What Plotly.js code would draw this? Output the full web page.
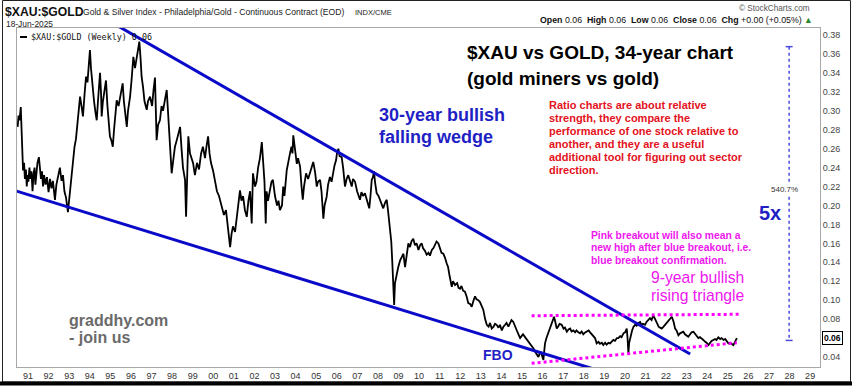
<!DOCTYPE html>
<html>
<head>
<meta charset="utf-8">
<script src="https://cdn.plot.ly/plotly-3.0.1.min.js"></script>
<style>
  html, body { margin: 0; padding: 0; background: #fff; }
  #chart { width: 859px; height: 386px; }
</style>
</head>
<body>
<div id="chart"></div>
<script>
// ---- Weekly $XAU:$GOLD ratio (decimal year, value) ----
const dates1990s = [1990.50,1990.54,1990.59,1990.65,1990.68,1990.72,1990.76,1990.81,1990.85,1990.90,1990.94,1990.98,
1991.02,1991.07,1991.12,1991.17,1991.22,1991.27,1991.32,1991.36,1991.41,1991.46,1991.53,1991.58,1991.63,1991.68,1991.73,1991.78,1991.85,1991.92,
1992.00,1992.07,1992.14,1992.21,1992.31,1992.38,1992.46,1992.55,1992.63,1992.70,1992.77,1992.85,1992.94,
1993.02,1993.09,1993.19,1993.26,1993.33,1993.38,1993.45,1993.53,1993.60,1993.67,1993.75,1993.82,1993.89,1993.96,
1994.01,1994.06,1994.14,1994.21,1994.28,1994.34,1994.40,1994.50,1994.55,1994.58,1994.64,1994.72,1994.79,1994.86,1994.94,1994.98,
1995.06,1995.12,1995.18,1995.25,1995.31,1995.40,1995.49,1995.60,1995.66,1995.74,1995.80,1995.86,1995.96,
1996.03,1996.12,1996.20,1996.30,1996.41,1996.47,1996.52,1996.59,1996.66,1996.77,1996.83,1996.93,
1997.03,1997.10,1997.17,1997.25,1997.32,1997.41,1997.49,1997.56,1997.66,1997.74,1997.80,1997.90,1997.98,
1998.07,1998.14,1998.24,1998.31,1998.39,1998.46,1998.53,1998.63,1998.68,1998.74,1998.79,1998.87,1998.94,
1999.02,1999.11,1999.21,1999.31,1999.41,1999.50,1999.60,1999.67,1999.75,1999.82,1999.89,1999.99];
const ratio1990s = [0.283,0.295,0.290,0.304,0.285,0.262,0.237,0.245,0.228,0.238,0.220,0.232,
0.225,0.240,0.228,0.236,0.215,0.233,0.240,0.222,0.235,0.245,0.251,0.238,0.228,0.236,0.220,0.232,0.222,0.230,
0.214,0.228,0.218,0.226,0.206,0.222,0.232,0.240,0.226,0.232,0.215,0.208,0.193,
0.210,0.228,0.245,0.262,0.270,0.280,0.298,0.315,0.305,0.294,0.318,0.336,0.330,0.350,
0.364,0.345,0.322,0.310,0.298,0.290,0.310,0.340,0.318,0.294,0.310,0.322,0.332,0.305,0.285,0.273,
0.268,0.262,0.280,0.300,0.311,0.305,0.318,0.329,0.310,0.295,0.283,0.300,0.315,
0.332,0.357,0.345,0.360,0.373,0.355,0.336,0.325,0.310,0.301,0.310,0.315,
0.305,0.322,0.335,0.269,0.285,0.290,0.305,0.300,0.312,0.322,0.300,0.262,0.234,
0.250,0.262,0.270,0.275,0.283,0.260,0.240,0.227,0.188,0.235,0.273,0.255,0.250,
0.245,0.232,0.245,0.238,0.255,0.262,0.250,0.262,0.273,0.255,0.245,0.237];

const dates2000s = [2000.09,2000.18,2000.28,2000.33,2000.43,2000.52,2000.62,2000.72,2000.77,2000.82,2000.89,2000.96,
2001.06,2001.16,2001.23,2001.30,2001.37,2001.45,2001.54,2001.63,2001.71,2001.79,2001.87,2001.93,
2002.03,2002.10,2002.18,2002.27,2002.36,2002.42,2002.49,2002.55,2002.59,2002.66,2002.76,2002.83,2002.90,
2003.00,2003.10,2003.17,2003.24,2003.34,2003.40,2003.46,2003.57,2003.63,2003.73,2003.80,2003.85,2003.89,2003.95,
2004.06,2004.12,2004.22,2004.29,2004.35,2004.41,2004.51,2004.61,2004.70,2004.78,2004.86,2004.95,
2005.03,2005.09,2005.19,2005.26,2005.35,2005.41,2005.51,2005.58,2005.67,2005.75,2005.84,2005.89,2005.97,
2006.01,2006.08,2006.14,2006.24,2006.31,2006.40,2006.48,2006.56,2006.65,2006.73,2006.79,2006.89,2006.99,
2007.06,2007.13,2007.20,2007.28,2007.37,2007.47,2007.54,2007.58,2007.64,2007.70,2007.76,2007.81,2007.86,2007.94,
2008.03,2008.10,2008.18,2008.26,2008.35,2008.43,2008.49,2008.54,2008.59,2008.65,2008.70,2008.75,2008.79,2008.83,2008.91,2008.99,
2009.08,2009.16,2009.24,2009.32,2009.39,2009.48,2009.56,2009.63,2009.72,2009.80,2009.88,2009.97];
const ratio2000s = [0.225,0.215,0.210,0.206,0.200,0.190,0.195,0.175,0.165,0.156,0.170,0.178,
0.172,0.190,0.200,0.216,0.205,0.210,0.195,0.188,0.205,0.215,0.181,0.234,
0.220,0.225,0.240,0.250,0.267,0.245,0.225,0.181,0.215,0.205,0.220,0.225,0.227,
0.210,0.200,0.205,0.195,0.200,0.220,0.210,0.237,0.245,0.255,0.262,0.255,0.274,0.262,
0.244,0.250,0.241,0.220,0.206,0.220,0.234,0.228,0.234,0.240,0.246,0.235,
0.220,0.225,0.227,0.215,0.186,0.200,0.209,0.222,0.230,0.225,0.237,0.242,0.248,
0.255,0.260,0.252,0.251,0.240,0.220,0.228,0.232,0.225,0.220,0.228,0.225,0.215,
0.210,0.206,0.214,0.210,0.213,0.205,0.200,0.197,0.210,0.227,0.230,0.236,0.225,0.213,
0.210,0.206,0.200,0.197,0.203,0.206,0.195,0.185,0.178,0.162,0.140,0.110,0.095,0.118,0.128,0.135,
0.142,0.146,0.149,0.135,0.145,0.160,0.156,0.162,0.165,0.158,0.160,0.153];

const dates2010s = [2010.05,2010.13,2010.19,2010.29,2010.37,2010.46,2010.53,2010.62,2010.70,2010.78,2010.85,2010.94,
2011.02,2011.09,2011.18,2011.26,2011.34,2011.41,2011.48,2011.53,2011.59,2011.65,2011.75,2011.85,2011.92,2011.99,
2012.06,2012.14,2012.23,2012.31,2012.39,2012.48,2012.56,2012.65,2012.72,2012.79,2012.88,2012.96,
2013.04,2013.12,2013.21,2013.29,2013.38,2013.45,2013.53,2013.62,2013.69,2013.77,2013.86,2013.93,
2014.02,2014.10,2014.18,2014.25,2014.34,2014.42,2014.49,2014.58,2014.66,2014.75,2014.83,2014.91,2014.98,
2015.05,2015.15,2015.22,2015.31,2015.39,2015.47,2015.56,2015.64,2015.71,2015.80,2015.85,2015.91,2015.98,
2016.04,2016.08,2016.12,2016.19,2016.28,2016.36,2016.45,2016.51,2016.56,2016.62,2016.69,2016.75,2016.83,2016.93,
2017.02,2017.09,2017.18,2017.26,2017.34,2017.41,2017.50,2017.58,2017.65,2017.74,2017.82,2017.90,2017.98,
2018.07,2018.15,2018.24,2018.31,2018.39,2018.47,2018.55,2018.63,2018.72,2018.79,2018.88,2018.95,
2019.04,2019.11,2019.20,2019.28,2019.35,2019.44,2019.52,2019.61,2019.68,2019.77,2019.84,2019.93];
const ratio2010s = [0.158,0.160,0.155,0.152,0.148,0.150,0.147,0.153,0.155,0.158,0.162,0.160,
0.155,0.150,0.149,0.145,0.139,0.135,0.126,0.118,0.114,0.120,0.116,0.118,0.113,0.112,
0.115,0.110,0.109,0.104,0.097,0.096,0.093,0.100,0.104,0.101,0.100,0.098,
0.094,0.090,0.080,0.074,0.072,0.076,0.070,0.072,0.075,0.074,0.071,0.074,
0.068,0.072,0.074,0.076,0.072,0.075,0.079,0.077,0.072,0.068,0.064,0.060,0.062,
0.064,0.061,0.059,0.056,0.054,0.051,0.049,0.0456,0.043,0.040,0.043,0.0456,0.041,
0.0368,0.046,0.0544,0.060,0.065,0.070,0.0756,0.080,0.0825,0.077,0.070,0.072,0.075,0.074,
0.070,0.071,0.0667,0.069,0.070,0.067,0.068,0.066,0.068,0.066,0.065,0.067,0.064,
0.066,0.0667,0.068,0.066,0.064,0.063,0.060,0.0544,0.056,0.054,0.055,0.0526,
0.055,0.053,0.055,0.0544,0.056,0.058,0.057,0.060,0.060,0.062,0.061,0.065];

const dates2020s = [2020.01,2020.09,2020.13,2020.17,2020.21,2020.29,2020.35,2020.42,2020.50,2020.57,2020.66,2020.74,2020.81,2020.88,2020.98,
2021.05,2021.14,2021.22,2021.30,2021.38,2021.47,2021.55,2021.64,2021.71,2021.79,2021.88,2021.95,
2022.04,2022.12,2022.20,2022.28,2022.37,2022.44,2022.51,2022.60,2022.68,2022.75,2022.84,2022.92,
2023.00,2023.08,2023.17,2023.24,2023.33,2023.41,2023.48,2023.57,2023.65,2023.73,2023.81,2023.90,2023.97,
2024.06,2024.14,2024.21,2024.30,2024.38,2024.45,2024.54,2024.63,2024.70,2024.79,2024.87,2024.94,
2025.03,2025.11,2025.18,2025.27,2025.35,2025.44];
const ratio2020s = [0.066,0.070,0.060,0.0439,0.055,0.065,0.068,0.072,0.074,0.073,0.076,0.077,0.074,0.075,0.074,
0.077,0.079,0.081,0.079,0.084,0.080,0.0756,0.072,0.071,0.070,0.072,0.074,
0.0756,0.078,0.080,0.0825,0.077,0.070,0.068,0.063,0.065,0.066,0.0667,0.064,
0.063,0.0614,0.064,0.066,0.0667,0.064,0.062,0.060,0.061,0.059,0.058,0.056,0.055,
0.0526,0.055,0.057,0.058,0.059,0.058,0.0607,0.059,0.060,0.058,0.059,0.057,
0.0544,0.055,0.054,0.0526,0.056,0.060];

// ---- Axis ticks ----
const yearTicks = [1991,1992,1993,1994,1995,1996,1997,1998,1999,2000,2001,2002,2003,2004,2005,2006,2007,2008,2009,2010,
2011,2012,2013,2014,2015,2016,2017,2018,2019,2020,2021,2022,2023,2024,2025,2026,2027,2028,2029];
const yearLabels = ['91','92','93','94','95','96','97','98','99','00','01','02','03','04','05','06','07','08','09','10',
'11','12','13','14','15','16','17','18','19','20','21','22','23','24','25','26','27','28','29'];
const priceTicks = [0.04,0.08,0.10,0.12,0.14,0.16,0.18,0.20,0.22,0.24,0.26,0.28,0.30,0.32,0.34,0.36,0.38];
const priceLabels = ['0.04','0.08','0.10','0.12','0.14','0.16','0.18','0.20','0.22','0.24','0.26','0.28','0.30','0.32','0.34','0.36','0.38'];
const lastValue = 0.06;

// ---- Hand-drawn annotation lines (year, ratio) ----
const wedgeTopX = [1995.37, 2023.17];
const wedgeTopY = [0.3895, 0.0431];
const wedgeBottomX = [1989.64, 2019.91];
const wedgeBottomY = [0.2205, 0.0178];
const triangleTopX = [2015.47, 2025.60];
const triangleTopY = [0.0836, 0.0851];
const triangleBottomX = [2015.47, 2025.44];
const triangleBottomY = [0.0333, 0.0551];
const measureX = 2027.98;
const measureY = [0.3677, 0.0575];

const dates = dates1990s.concat(dates2000s, dates2010s, dates2020s);
const ratio = ratio1990s.concat(ratio2000s, ratio2010s, ratio2020s);

// plot-area pixel helpers for text placement (plot: x 17..820, y 28..367)
const L = 17, R = 820, T = 28, B = 367;
const PX = x => (x - L) / (R - L);
const PY = y => (B - y) / (B - T);

const FONT = '"Liberation Sans", Arial, Helvetica, sans-serif';
function note(text, x, y, size, color, opt) {
  opt = opt || {};
  return Object.assign({
    xref: 'paper', yref: 'paper', x: PX(x), y: PY(y), text: text, showarrow: false,
    xanchor: 'left', yanchor: 'middle',
    font: {family: FONT, size: size, color: color}
  }, opt);
}

const annotations = [];
// header
annotations.push(note('<b>$XAU:$GOLD</b>', 3, 12, 12.2, '#111'));
annotations.push(note('Gold &amp; Silver Index - Philadelphia/Gold - Continuous Contract (EOD)', 81, 12.5, 8.6, '#222'));
annotations.push(note('INDX/CME', 353, 12.5, 7.5, '#222'));
annotations.push(note('18-Jun-2025', 4, 24, 8.4, '#222'));
annotations.push(note('\u00A9 StockCharts.com', 812, 8, 8.2, '#555', {xanchor: 'right'}));
annotations.push(note('<b>Open</b> 0.06  <b>High</b> 0.06  <b>Low</b> 0.06  <b>Close</b> 0.06  <b>Chg</b> +0.00 (+0.05%) <span style="color:#2a8a2a">\u25B2</span>', 815, 20, 8.8, '#111', {xanchor: 'right'}));
annotations.push(note('$XAU:$GOLD (Weekly) 0.06', 29, 37, 8.6, '#111', {font: {family: '"DejaVu Sans Mono", monospace', size: 8.4, color: '#111'}}));

// big titles
annotations.push(note('<b>$XAU vs GOLD, 34-year chart</b>', 465, 52, 19, '#000'));
annotations.push(note('<b>(gold miners vs gold)</b>', 465, 78, 19, '#000'));
annotations.push(note('<b>30-year bullish</b>', 377, 115, 18, '#1f1fc4'));
annotations.push(note('<b>falling wedge</b>', 377, 137, 18, '#1f1fc4'));

const redLines = ['Ratio charts are about relative', 'strength, they compare the',
  'performance of one stock relative to', 'another, and they are a useful',
  'additional tool for figuring out sector', 'direction.'];
redLines.forEach((t, i) => annotations.push(note('<b>' + t + '</b>', 547, 105.5 + i * 12.9, 11, '#e3121c')));

const pinkLines = ['Pink breakout will also mean a', 'new high after blue breakout, i.e.', 'blue breakout confirmation.'];
pinkLines.forEach((t, i) => annotations.push(note('<b>' + t + '</b>', 589, 235.5 + i * 12.4, 10.3, '#ee16ee')));

annotations.push(note('9-year bullish', 649, 277, 15.7, '#ee16ee'));
annotations.push(note('rising triangle', 649, 295, 15.7, '#ee16ee'));
annotations.push(note('<b>FBO</b>', 481, 355, 14, '#1f1fc4'));
annotations.push(note('<b>graddhy.com</b>', 67, 320, 16, '#6a6a6a'));
annotations.push(note('<b>- join us</b>', 67, 337, 16, '#6a6a6a'));
annotations.push(note('<b>5x</b>', 757, 213, 20, '#1f1fc4'));
annotations.push(note('540.7%', 784, 189, 8, '#333', {xanchor: 'center', bgcolor: '#fff'}));

// last value marker on the price axis
annotations.push({
  xref: 'paper', yref: 'y', x: PX(822), y: lastValue, text: '<b>0.06</b>', showarrow: false,
  xanchor: 'left', yanchor: 'middle', bgcolor: '#fff', bordercolor: '#000', borderwidth: 1, borderpad: 1,
  font: {family: FONT, size: 8.5, color: '#000'}
});

const shapes = [
  // outer frame of the screenshot
  {type: 'rect', xref: 'paper', yref: 'paper', x0: PX(2.5), x1: PX(850.5), y0: PY(382), y1: PY(0.5),
   line: {color: '#222', width: 1}, layer: 'below'},
  {type: 'line', xref: 'paper', yref: 'paper', x0: PX(0), x1: PX(852), y0: PY(383.5), y1: PY(383.5),
   line: {color: '#000', width: 4}},
  // legend dash
  {type: 'line', xref: 'paper', yref: 'paper', x0: PX(20), x1: PX(27), y0: PY(37), y1: PY(37),
   line: {color: '#000', width: 2}},
  // wedge
  {type: 'line', xref: 'x', yref: 'y', x0: wedgeTopX[0], x1: wedgeTopX[1], y0: wedgeTopY[0], y1: wedgeTopY[1],
   line: {color: '#0a0ac8', width: 3}, layer: 'above'},
  {type: 'line', xref: 'x', yref: 'y', x0: wedgeBottomX[0], x1: wedgeBottomX[1], y0: wedgeBottomY[0], y1: wedgeBottomY[1],
   line: {color: '#0a0ac8', width: 3}, layer: 'above'},
  // triangle
  {type: 'line', xref: 'x', yref: 'y', x0: triangleTopX[0], x1: triangleTopX[1], y0: triangleTopY[0], y1: triangleTopY[1],
   line: {color: '#ff00ff', width: 3, dash: 'dot'}, layer: 'above'},
  {type: 'line', xref: 'x', yref: 'y', x0: triangleBottomX[0], x1: triangleBottomX[1], y0: triangleBottomY[0], y1: triangleBottomY[1],
   line: {color: '#ff00ff', width: 3, dash: 'dot'}, layer: 'above'},
  // measurement line
  {type: 'line', xref: 'x', yref: 'y', x0: measureX, x1: measureX, y0: measureY[0], y1: measureY[1],
   line: {color: '#4a4ae0', width: 1.5, dash: 'dot'}},
  {type: 'line', xref: 'x', yref: 'y', x0: measureX - 0.17, x1: measureX + 0.17, y0: measureY[0], y1: measureY[0],
   line: {color: '#4a4ae0', width: 1.5}},
  {type: 'line', xref: 'x', yref: 'y', x0: measureX - 0.17, x1: measureX + 0.17, y0: measureY[1], y1: measureY[1],
   line: {color: '#4a4ae0', width: 1.5}}
];

const trace = {
  x: dates, y: ratio, type: 'scatter', mode: 'lines',
  line: {color: '#000', width: 1.8}, hoverinfo: 'skip', name: '$XAU:$GOLD (Weekly)'
};

const layout = {
  width: 859, height: 386,
  margin: {l: L, r: 859 - R, t: T, b: 386 - B, pad: 0},
  paper_bgcolor: '#fff', plot_bgcolor: '#fff',
  showlegend: false,
  font: {family: FONT, size: 9, color: '#333'},
  xaxis: {
    range: [1990.466, 2029.48], tickmode: 'array', tickvals: yearTicks, ticktext: yearLabels,
    showgrid: false, zeroline: false, showline: true, mirror: true, linecolor: '#a8a8a8', linewidth: 1,
    ticks: '', tickfont: {family: FONT, size: 9, color: '#333'}, fixedrange: true
  },
  yaxis: {
    side: 'right', range: [0.02944, 0.3874], tickmode: 'array', tickvals: priceTicks, ticktext: priceLabels,
    showgrid: false, zeroline: false, showline: true, mirror: true, linecolor: '#a8a8a8', linewidth: 1,
    ticks: '', tickfont: {family: FONT, size: 9, color: '#444'}, fixedrange: true
  },
  annotations: annotations,
  shapes: shapes
};

Plotly.newPlot('chart', [trace], layout, {staticPlot: true, displayModeBar: false});
</script>
</body>
</html>
